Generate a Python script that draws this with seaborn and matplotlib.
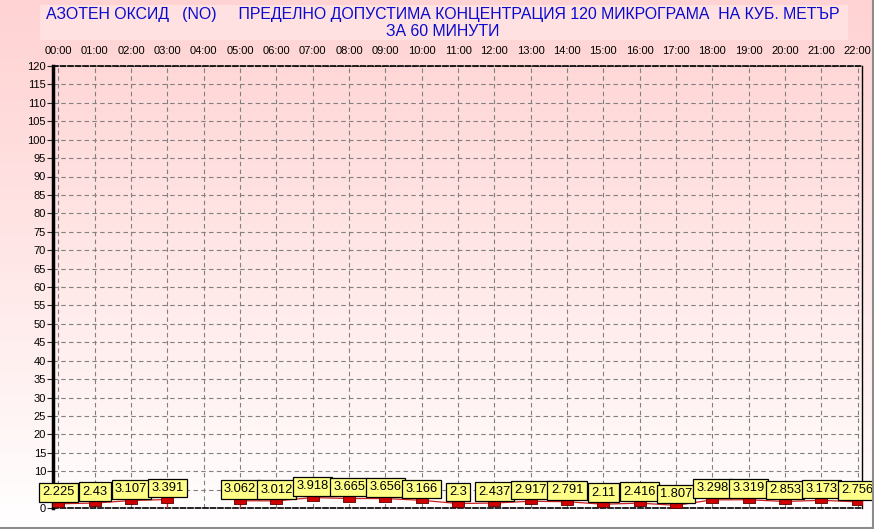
import numpy as np
import pandas as pd
import matplotlib
matplotlib.use("Agg")
import matplotlib.pyplot as plt
import matplotlib.transforms as mtransforms
import seaborn as sns
from matplotlib.patches import Rectangle
from matplotlib.lines import Line2D

# Данни: азотен оксид (NO), средночасови стойности
hours = list(range(23))
hour_labels = [f"{h:02d}:00" for h in hours]
values = [2.225, 2.43, 3.107, 3.391, np.nan, 3.062, 3.012, 3.918, 3.665, 3.656,
          3.166, 2.3, 2.437, 2.917, 2.791, 2.11, 2.416, 1.807, 3.298, 3.319,
          2.853, 3.173, 2.756]
y_ticks = list(range(0, 121, 5))
title_text = ("АЗОТЕН ОКСИД   (NO)     ПРЕДЕЛНО ДОПУСТИМА КОНЦЕНТРАЦИЯ 120 МИКРОГРАМА  НА КУБ. МЕТЪР\n"
              "ЗА 60 МИНУТИ")

df = pd.DataFrame({"hour": hours, "value": values})
# отделни сегменти, за да се запази прекъсването при липсваща стойност
df["segment"] = df["value"].isna().cumsum()
df_ok = df.dropna()

sns.set_style("white")
plt.rcParams["font.family"] = ["Liberation Sans", "DejaVu Sans"]

W, H = 874, 529
fig = plt.figure(figsize=(W / 100, H / 100), dpi=100)

# фон с градиент (розово -> бяло)
bg = fig.add_axes([0, 0, 1, 1], zorder=-10)
grad = np.linspace(0, 1, 256).reshape(-1, 1)
top_c = np.array([255, 211, 211]) / 255
bot_c = np.array([255, 255, 255]) / 255
img = top_c + (bot_c - top_c) * grad ** 1.1
bg.imshow(img[:, None, :].repeat(2, axis=1), aspect="auto", extent=[0, 1, 0, 1], origin="upper")
bg.set_xlim(0, 1)
bg.set_ylim(0, 1)
bg.axis("off")

# заглавие в светлорозова кутия
fig.patches.append(Rectangle((40 / W, 1 - 40 / H), 808 / W, 35 / H, transform=fig.transFigure,
                             facecolor="#FFE1E1", edgecolor="none", zorder=0))
fig.text(443 / W, 1 - 23 / H, title_text, ha="center", va="center", fontsize=11.4,
         color="#0A0ACF", linespacing=1.12)

# рамка отдолу и отдясно
fig.lines.append(Line2D([0, 1], [1 / H, 1 / H], transform=fig.transFigure, color="#8C8C8C", lw=1.5))
fig.lines.append(Line2D([1 - 1 / W, 1 - 1 / W], [0, 1], transform=fig.transFigure, color="#8C8C8C", lw=1.5))

left, right, top, bottom = 53, 862, 66, 508
ax = fig.add_axes([left / W, 1 - bottom / H, (right - left) / W, (bottom - top) / H])
ax.set_facecolor("none")

# маркерите и линията са леко под етикетите (изместване в пиксели)
shift_down = mtransforms.ScaledTranslation(0, -4 / 100, fig.dpi_scale_trans)

sns.lineplot(data=df_ok, x="hour", y="value", units="segment", estimator=None,
             color="#CC2222", linewidth=0.9, ax=ax, zorder=3)
for ln in ax.lines:
    ln.set_transform(ax.transData + shift_down)

# вертикални линии до нулата около липсващата стойност
gap_neighbors = [h for h in hours if not np.isnan(values[h]) and
                 ((h > 0 and np.isnan(values[h - 1])) or (h < 22 and np.isnan(values[h + 1])))]
ax.vlines(gap_neighbors, 0, [values[h] for h in gap_neighbors], color="#CC2222", lw=0.9, zorder=3)

rect_marker = [(-1, -0.6), (1, -0.6), (1, 0.6), (-1, 0.6), (-1, -0.6)]
sns.scatterplot(data=df_ok, x="hour", y="value", marker=rect_marker, s=70,
                color="#D00000", edgecolor="#5A0000", linewidth=0.6, ax=ax, zorder=4)
ax.collections[-1].set_offset_transform(ax.transData + shift_down)

for h, v in zip(df_ok["hour"], df_ok["value"]):
    ax.annotate(f"{v:g}", (h, v), xytext=(0, 1), textcoords="offset points",
                ha="center", va="bottom", fontsize=9.3, color="black", zorder=5,
                bbox=dict(boxstyle="square,pad=0.26", fc="#FFFF88", ec="black", lw=0.9))

ax.set_xlim(-0.15, 22.12)
ax.set_ylim(0, 120)
ax.set_xticks(hours)
ax.set_xticklabels(hour_labels)
ax.set_yticks(y_ticks)
ax.xaxis.tick_top()
ax.tick_params(axis="x", top=False, labelsize=8, pad=4, labelcolor="black")
ax.tick_params(axis="y", left=True, length=4, width=0.8, labelsize=8, pad=1, labelcolor="black")
ax.set_xlabel("")
ax.set_ylabel("")

ax.grid(True, color="#808080", linestyle=(0, (4, 3)), linewidth=0.8)
ax.set_axisbelow(True)

ax.spines["left"].set_linewidth(2.5)
ax.spines["left"].set_color("black")
ax.spines["right"].set_linewidth(1)
ax.spines["right"].set_color("black")
for s in ["top", "bottom"]:
    ax.spines[s].set_linestyle((0, (3, 1.5)))
    ax.spines[s].set_linewidth(1.2)
    ax.spines[s].set_color("black")

fig.savefig("out.png", dpi=100)
